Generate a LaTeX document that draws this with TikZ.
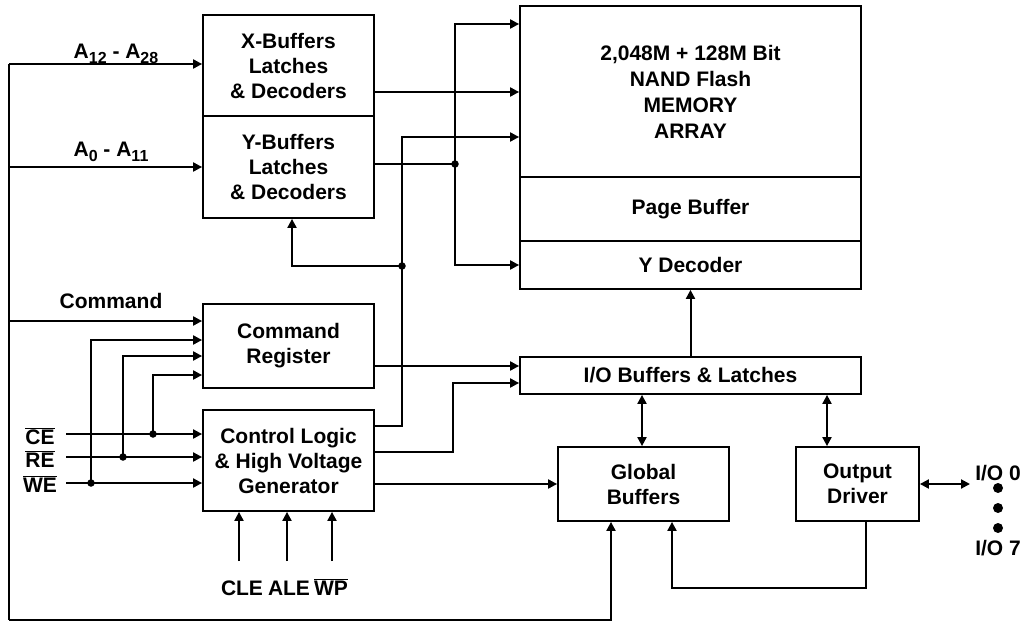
\documentclass[tikz,border=0pt]{standalone}
\usepackage{fontspec}
\setmainfont{Liberation Sans}
\usetikzlibrary{arrows.meta,calc}
\begin{document}
\begin{tikzpicture}[x=1pt,y=-1pt,
  box/.style={draw, line width=1.8pt, inner sep=0pt, align=center, font=\fontsize{21}{25}\selectfont\bfseries},
  lbl/.style={inner sep=0pt, align=center, font=\fontsize{21}{25}\selectfont\bfseries},
  wire/.style={line width=2pt},
  arr/.style={wire, -{Triangle[length=9pt,width=9pt]}},
  darr/.style={wire, {Triangle[length=9pt,width=9pt]}-{Triangle[length=9pt,width=9pt]}},
  jdot/.style={circle, fill, inner sep=0pt, minimum size=7.5pt},
  bdot/.style={circle, fill, inner sep=0pt, minimum size=10pt}]
\useasboundingbox (0,0) rectangle (1025,623);

% boxes
\node[box, minimum width=171pt, minimum height=101pt] (xbuf) at (288.5,65.5) {X-Buffers\\Latches\\\& Decoders};
\node[box, minimum width=171pt, minimum height=102pt] (ybuf) at (288.5,167) {Y-Buffers\\Latches\\\& Decoders};
\node[box, minimum width=171pt, minimum height=84pt] (cmdreg) at (288.5,346) {Command\\Register};
\node[box, minimum width=171pt, minimum height=101pt] (ctrl) at (288.5,460.5) {Control Logic\\\& High Voltage\\Generator};
\node[box, minimum width=341pt, minimum height=171pt, font=\fontsize{21}{26}\selectfont\bfseries] (mem) at (690.5,91.5) {2,048M + 128M Bit\\NAND Flash\\MEMORY\\ARRAY};
\node[box, minimum width=341pt, minimum height=64pt] (page) at (690.5,209) {Page Buffer};
\node[box, minimum width=341pt, minimum height=48pt] (ydec) at (690.5,265) {Y Decoder};
\node[box, minimum width=341pt, minimum height=37pt] (iobuf) at (690.5,375.5) {I/O Buffers \& Latches};
\node[box, minimum width=171pt, minimum height=74pt] (glob) at (643.5,484) {Global\\Buffers};
\node[box, minimum width=123pt, minimum height=74pt] (outdrv) at (857.5,484) {Output\\Driver};

% labels
\node[lbl] (la1) at (116,54) {A\raisebox{-5pt}{\fontsize{16}{16}\selectfont 12} - A\raisebox{-5pt}{\fontsize{16}{16}\selectfont 28}};
\node[lbl] (la0) at (111,152) {A\raisebox{-5pt}{\fontsize{16}{16}\selectfont 0} - A\raisebox{-5pt}{\fontsize{16}{16}\selectfont 11}};
\node[lbl] (lcmd) at (111,301) {Command};
\node[lbl] (lce) at (40,436) {$\overline{\hbox{CE}}$};
\node[lbl] (lre) at (40,459) {$\overline{\hbox{RE}}$};
\node[lbl] (lwe) at (40,484) {$\overline{\hbox{WE}}$};
\node[lbl] (lcle) at (242,588) {CLE};
\node[lbl] (lale) at (289,588) {ALE};
\node[lbl] (lwp) at (331,587) {$\overline{\hbox{WP}}$};
\node[lbl] (lio0) at (998,473) {I/O 0};
\node[lbl] (lio7) at (998,548) {I/O 7};
\node[bdot] (b1) at (998,488) {};
\node[bdot] (b2) at (998,508) {};
\node[bdot] (b3) at (998,528) {};

% coordinates
\coordinate (busTop) at (9,64);
\coordinate (busBot) at (9,620);
\coordinate (ceIn) at (66,434);
\coordinate (reIn) at (66,457);
\coordinate (weIn) at (66,483);
\coordinate (ioEnd) at (970,484);
\coordinate (cleIn) at (239,561);
\coordinate (aleIn) at (287,561);
\coordinate (wpIn) at (332,561);

% junction dots
\node[jdot] (j455) at (455,164) {};
\node[jdot] (j402) at (402,266) {};
\node[jdot] (jce) at (153,434) {};
\node[jdot] (jre) at (123,457) {};
\node[jdot] (jwe) at (91,483) {};

% left bus
\draw[arr] (busTop) -- (xbuf.west |- busTop);
\draw[wire] (busTop) -- (busBot);
\draw[arr] (9,167) -- (ybuf.west);
\draw[arr] (9,321) -- (cmdreg.west |- 0,321);
\draw[arr] (busBot) -| ([xshift=-32.5pt]glob.south);

% X/Y buffer outputs
\draw[arr] (xbuf.east |- 0,92) -- (mem.west |- 0,92);
\draw[wire] (ybuf.east |- j455) -- (j455.center);
\draw[arr] (j455.center) |- (mem.west |- 0,24);
\draw[arr] (j455.center) |- (ydec.west);

% control logic outputs
\draw[arr] (ctrl.east |- 0,426) -| (402,137) -- (mem.west |- 0,137);
\draw[arr] (j402.center) -| ([xshift=3.5pt]ybuf.south);
\draw[arr] (cmdreg.east |- 0,366) -- (iobuf.west |- 0,366);
\draw[arr] (ctrl.east |- 0,452) -| (453,383) -- (iobuf.west |- 0,383);
\draw[arr] (ctrl.east |- glob.west) -- (glob.west);

% CE RE WE
\draw[arr] (ceIn) -- (ctrl.west |- ceIn);
\draw[arr] (reIn) -- (ctrl.west |- reIn);
\draw[arr] (weIn) -- (ctrl.west |- weIn);
\draw[arr] (jce.center) |- (cmdreg.west |- 0,375);
\draw[arr] (jre.center) |- (cmdreg.west |- 0,356);
\draw[arr] (jwe.center) |- (cmdreg.west |- 0,340);

% CLE ALE WP
\draw[arr] (cleIn) -- (ctrl.south -| cleIn);
\draw[arr] (aleIn) -- (ctrl.south -| aleIn);
\draw[arr] (wpIn) -- (ctrl.south -| wpIn);

% I/O section
\draw[arr] (iobuf.north) -- (ydec.south);
\draw[darr] (iobuf.south -| 642,0) -- (glob.north -| 642,0);
\draw[darr] (iobuf.south -| 827,0) -- (outdrv.north -| 827,0);
\draw[darr] (outdrv.east) -- (ioEnd);
\draw[arr] (outdrv.south -| 866,0) -- (866,588) -| (glob.south -| 672,0);
\end{tikzpicture}
\end{document}
